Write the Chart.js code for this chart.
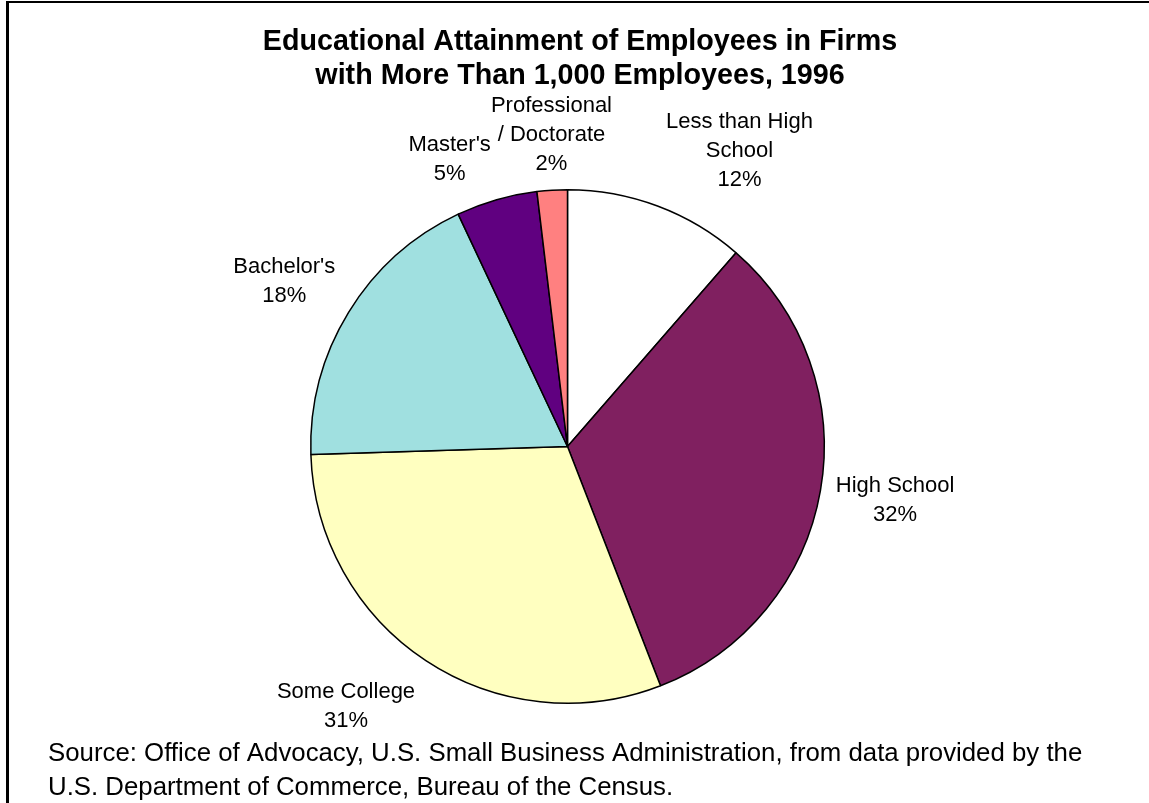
<!DOCTYPE html>
<html>
<head>
<meta charset="utf-8">
<script src="https://cdn.jsdelivr.net/npm/chart.js@4"></script>
<style>
  html, body { margin: 0; padding: 0; background: #fff; }
  #wrap { position: relative; width: 1149px; height: 803px; }
</style>
</head>
<body>
<div id="wrap"><canvas id="pieChart" width="1149" height="803"></canvas></div>
<script>
// categories, as the lines shown in each slice label
const categories = ['Less than High School', 'High School', 'Some College', "Bachelor's", "Master's", 'Professional / Doctorate'];
const labelLines = [['Less than High', 'School'], ['High School'], ['Some College'], ["Bachelor's"], ["Master's"], ['Professional', '/ Doctorate']];
// slice sizes as drawn (percent of employees)
const shares = [11.4, 32.7, 30.4, 18.5, 5.1, 1.9];
// percentages printed on the labels
const percentLabels = ['12%', '32%', '31%', '18%', '5%', '2%'];
const sliceColors = ['#ffffff', '#802060', '#ffffc0', '#a0e0e0', '#600080', '#ff8080'];

const titleLines = ['Educational Attainment of Employees in Firms', 'with More Than 1,000 Employees, 1996'];
const sourceLines = ['Source: Office of Advocacy, U.S. Small Business Administration, from data provided by the',
  'U.S. Department of Commerce, Bureau of the Census.'];

const FONT = '"Liberation Sans", Arial, sans-serif';

// frame, title, outside labels and source note
const decorPlugin = {
  id: 'decor',
  afterDraw(chart) {
    const ctx = chart.ctx;
    ctx.save();

    // frame (left and top edge visible)
    ctx.fillStyle = '#000';
    ctx.fillRect(6, 1, 3, 802);
    ctx.fillRect(6, 1, 1143, 2);

    // title
    ctx.font = 'bold 28.7px ' + FONT;
    ctx.textAlign = 'center';
    ctx.textBaseline = 'alphabetic';
    ctx.fillText(titleLines[0], 580, 50);
    ctx.fillText(titleLines[1], 580, 84);

    // slice labels outside each slice, pushed away from the pie like Excel does
    const meta = chart.getDatasetMeta(0);
    const lineH = 29;
    ctx.font = '22px ' + FONT;
    ctx.textBaseline = 'middle';
    ctx.textAlign = 'center';
    meta.data.forEach((arc, i) => {
      const p = arc.getProps(['x', 'y', 'startAngle', 'endAngle', 'outerRadius'], true);
      const mid = (p.startAngle + p.endAngle) / 2;
      const r = p.outerRadius + 12;
      const cx = Math.cos(mid), cy = Math.sin(mid);
      const ax = p.x + cx * r;
      const ay = p.y + cy * r;
      const lines = labelLines[i].concat([percentLabels[i]]);
      const w = Math.max(...lines.map(t => ctx.measureText(t).width));
      const h = lines.length * lineH;
      const hx = Math.abs(cx) < 0.15 ? 0 : Math.sign(cx) * 1.06;
      const vy = Math.max(-1, Math.min(1.25, cy * 1.6));
      const bx = ax + hx * w / 2;
      const by = ay + vy * h / 2;
      lines.forEach((t, j) => {
        ctx.fillText(t, bx, by + (j - (lines.length - 1) / 2) * lineH);
      });
    });

    // source note
    ctx.font = '25.8px ' + FONT;
    ctx.textAlign = 'left';
    ctx.textBaseline = 'alphabetic';
    ctx.fillText(sourceLines[0], 48, 761);
    ctx.fillText(sourceLines[1], 48, 795);

    ctx.restore();
  }
};

new Chart(document.getElementById('pieChart').getContext('2d'), {
  type: 'pie',
  data: {
    labels: categories,
    datasets: [{
      data: shares,
      backgroundColor: sliceColors,
      borderColor: '#000000',
      borderWidth: 1.5
    }]
  },
  options: {
    responsive: false,
    animation: false,
    devicePixelRatio: 1,
    layout: { padding: { left: 310, right: 324, top: 189, bottom: 99 } },
    plugins: {
      legend: { display: false },
      tooltip: { enabled: false },
      title: { display: false }
    }
  },
  plugins: [decorPlugin]
});
</script>
</body>
</html>
